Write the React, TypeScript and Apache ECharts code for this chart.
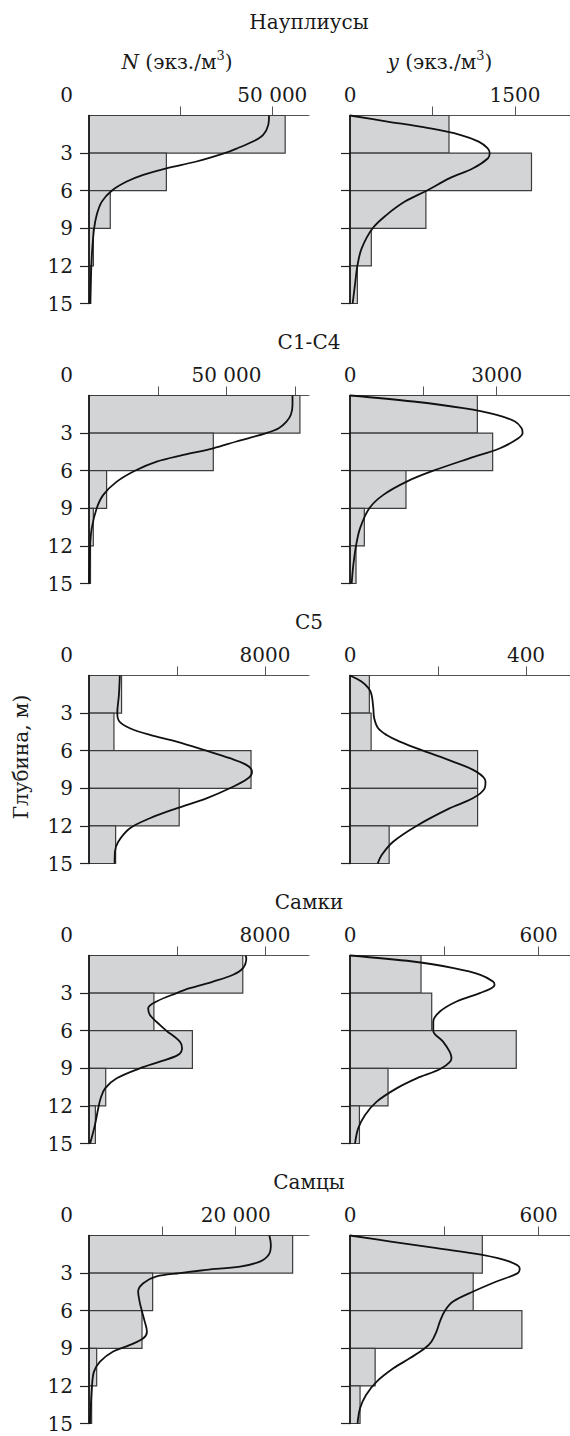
import { useEffect, useRef } from "react";
import * as echarts from "echarts";

// ---------- data ----------
const groupTitles = ["Науплиусы", "C1-C4", "C5", "Самки", "Самцы"];
const depthBands = [[0, 3], [3, 6], [6, 9], [9, 12], [12, 15]];
const depthTicks = [3, 6, 9, 12, 15];

// Науплиусы
const naupliiNBars = [53500, 21100, 5800, 1200, 500];
const naupliiNCurve = [[49100, 0], [48900, 0.75], [47500, 1.54], [44700, 2.08], [40500, 2.61], [37000, 3.0], [29300, 3.67], [21100, 4.21], [14800, 4.74], [10300, 5.27], [6200, 6.0], [3500, 6.87], [2100, 7.93], [1400, 9.0], [900, 10.6], [640, 12.0], [270, 15]];
const naupliiNMax = 60000;
const naupliiNTicks = [25000, 50000];
const naupliiNLabels = [50000];

const naupliiYBars = [900, 1650, 690, 194, 67];
const naupliiYCurve = [[0, 0], [340, 0.48], [715, 1.01], [1000, 1.54], [1170, 2.08], [1250, 2.61], [1270, 3.0], [1255, 3.41], [1119, 4.21], [907, 5.0], [696, 6.0], [499, 6.87], [333, 7.93], [206, 9.0], [106, 10.6], [67, 12.0], [45, 13.52], [24, 15]];
const naupliiYMax = 2000;
const naupliiYTicks = [750, 1500];
const naupliiYLabels = [1500];

// C1-C4
const c14NBars = [76700, 45200, 6400, 1570, 550];
const c14NCurve = [[74000, 0], [74000, 0.75], [73400, 1.54], [71800, 2.08], [69000, 2.61], [64500, 3.0], [53600, 3.67], [45200, 4.21], [34300, 4.74], [24600, 5.27], [16700, 6.0], [10100, 6.87], [5200, 7.93], [2800, 9.0], [1000, 10.6], [400, 12.0], [100, 15]];
const c14NMax = 80000;
const c14NTicks = [25000, 50000, 75000];
const c14NLabels = [50000];

const c14YBars = [2605, 2918, 1145, 293, 123];
const c14YCurve = [[0, 0], [1295, 0.48], [2318, 1.01], [3000, 1.54], [3375, 2.08], [3511, 2.61], [3530, 3.0], [3443, 3.41], [3068, 4.21], [2455, 5.0], [1705, 6.0], [1159, 6.87], [682, 7.93], [395, 9.0], [205, 10.6], [123, 12.0], [68, 13.52], [34, 15]];
const c14YMax = 4500;
const c14YTicks = [1500, 3000, 4500];
const c14YLabels = [3000];

// C5
const c5NBars = [1480, 1134, 7365, 4100, 1210];
const c5NCurve = [[1400, 0], [1360, 1.54], [1285, 3.0], [1380, 3.67], [1860, 4.21], [2770, 4.74], [3980, 5.27], [5340, 6.0], [6400, 6.6], [7150, 7.13], [7410, 7.67], [7230, 8.2], [6400, 9.0], [5340, 9.8], [3980, 10.6], [2770, 11.39], [1860, 12.19], [1330, 13.26], [1180, 14.05], [1165, 15]];
const c5NMax = 10000;
const c5NTicks = [4000, 8000];
const c5NLabels = [8000];

const c5YBars = [44, 48, 290, 290, 89];
const c5YCurve = [[0, 0], [26, 0.48], [42, 1.01], [49, 1.54], [53, 2.61], [55, 3.41], [64, 4.21], [83, 4.74], [113, 5.27], [166, 6.0], [234, 6.87], [287, 7.67], [308, 8.47], [306, 9.0], [279, 9.8], [226, 10.6], [151, 12.0], [98, 13.26], [72, 14.32], [63, 15]];
const c5YMax = 500;
const c5YTicks = [200, 400];
const c5YLabels = [400];

// Самки
const femaleNBars = [6990, 2950, 4700, 760, 290];
const femaleNCurve = [[7110, 0], [7150, 0.2], [7000, 1.01], [6550, 1.54], [5640, 2.08], [4580, 2.61], [3980, 3.0], [3070, 3.67], [2690, 4.21], [2770, 4.74], [3220, 5.54], [3520, 6.0], [4130, 6.87], [4230, 7.4], [4050, 7.93], [3220, 8.47], [2310, 9.0], [1260, 9.8], [730, 10.6], [530, 11.39], [420, 12.19], [270, 13.52], [50, 15]];
const femaleNMax = 10000;
const femaleNTicks = [4000, 8000];
const femaleNLabels = [8000];

const femaleYBars = [226, 260, 529, 121, 30];
const femaleYCurve = [[0, 0], [200, 0.48], [330, 1.01], [415, 1.54], [455, 2.08], [460, 2.35], [450, 2.61], [413, 3.0], [339, 3.67], [286, 4.47], [265, 5.27], [265, 6.0], [296, 6.87], [317, 7.67], [323, 8.2], [291, 9.0], [212, 9.8], [148, 10.6], [85, 11.66], [48, 12.72], [26, 13.79], [16, 15]];
const femaleYMax = 700;
const femaleYTicks = [300, 600];
const femaleYLabels = [600];

// Самцы
const maleNBars = [27770, 8680, 7230, 1045, 360];
const maleNCurve = [[24600, 0], [24800, 0.75], [24500, 1.54], [23300, 2.08], [20600, 2.48], [16000, 2.74], [12400, 3.0], [9200, 3.27], [7400, 3.81], [6700, 4.47], [6900, 5.27], [7200, 6.0], [7600, 6.87], [7900, 7.67], [7400, 8.2], [5600, 8.73], [3300, 9.26], [1500, 10.06], [680, 10.86], [410, 12.0], [140, 15]];
const maleNMax = 30000;
const maleNTicks = [10000, 20000];
const maleNLabels = [20000];

const maleYBars = [421, 392, 547, 80, 32];
const maleYCurve = [[0, 0], [130, 0.48], [276, 1.01], [421, 1.54], [508, 2.08], [540, 2.61], [534, 3.0], [466, 3.67], [392, 4.47], [328, 5.27], [302, 6.0], [286, 6.87], [275, 7.67], [259, 8.47], [238, 9.0], [190, 9.8], [138, 10.6], [85, 11.66], [51, 12.72], [32, 13.79], [24, 15]];
const maleYMax = 700;
const maleYTicks = [300, 600];
const maleYLabels = [600];

const panels = [
  { bars: naupliiNBars, curve: naupliiNCurve, max: naupliiNMax, ticks: naupliiNTicks, labels: naupliiNLabels },
  { bars: naupliiYBars, curve: naupliiYCurve, max: naupliiYMax, ticks: naupliiYTicks, labels: naupliiYLabels },
  { bars: c14NBars, curve: c14NCurve, max: c14NMax, ticks: c14NTicks, labels: c14NLabels },
  { bars: c14YBars, curve: c14YCurve, max: c14YMax, ticks: c14YTicks, labels: c14YLabels },
  { bars: c5NBars, curve: c5NCurve, max: c5NMax, ticks: c5NTicks, labels: c5NLabels },
  { bars: c5YBars, curve: c5YCurve, max: c5YMax, ticks: c5YTicks, labels: c5YLabels },
  { bars: femaleNBars, curve: femaleNCurve, max: femaleNMax, ticks: femaleNTicks, labels: femaleNLabels },
  { bars: femaleYBars, curve: femaleYCurve, max: femaleYMax, ticks: femaleYTicks, labels: femaleYLabels },
  { bars: maleNBars, curve: maleNCurve, max: maleNMax, ticks: maleNTicks, labels: maleNLabels },
  { bars: maleYBars, curve: maleYCurve, max: maleYMax, ticks: maleYTicks, labels: maleYLabels },
];

// ---------- layout / style ----------
const FONT = "DejaVu Serif";
const FS = 20;
const TEXT = "#1a1a1a";
const GROUP_TOP0 = 115.5;
const GROUP_STEP = 280;
const PLOT_H = 188;
const PLOT_W = 220;
const LEFT_X = 89;
const RIGHT_X = 350;

const fmt = (v: number) => {
  if (v >= 10000) {
    const s = String(v);
    return s.slice(0, s.length - 3) + " " + s.slice(s.length - 3);
  }
  return String(v);
};

export default function App() {
  const ref = useRef<HTMLDivElement>(null);

  useEffect(() => {
    document.body.style.margin = "0";
    if (!ref.current) return;
    const chart = echarts.init(ref.current, undefined, { renderer: "svg" });

    const grid: any[] = [];
    const xAxis: any[] = [];
    const yAxis: any[] = [];
    const series: any[] = [];
    const graphic: any[] = [];

    panels.forEach((p, i) => {
      const g = Math.floor(i / 2);
      const side = i % 2;
      const top = GROUP_TOP0 + GROUP_STEP * g;
      grid.push({ left: side ? RIGHT_X : LEFT_X, top, width: PLOT_W, height: PLOT_H });
      xAxis.push({
        gridIndex: i,
        type: "value",
        position: "top",
        min: 0,
        max: p.max,
        axisLine: { show: true, onZero: false, lineStyle: { color: "#555", width: 1 } },
        axisTick: { show: true, customValues: p.ticks, length: 9, lineStyle: { color: "#555", width: 1 } },
        axisLabel: {
          show: true,
          customValues: side ? [0, ...p.labels] : p.labels,
          formatter: (v: number) => fmt(v),
          margin: 11,
          fontFamily: FONT,
          fontSize: FS,
          color: TEXT,
        },
        splitLine: { show: false },
      });
      yAxis.push({
        gridIndex: i,
        type: "value",
        inverse: true,
        min: 0,
        max: 15,
        z: 5,
        axisLine: { show: true, onZero: false, lineStyle: { color: "#111", width: 1.6 } },
        axisTick: { show: true, customValues: depthTicks, length: 9, lineStyle: { color: "#222", width: 1.2 } },
        axisLabel: {
          show: side === 0,
          customValues: depthTicks,
          margin: 16,
          fontFamily: FONT,
          fontSize: FS,
          color: TEXT,
        },
        splitLine: { show: false },
      });
      series.push({
        type: "custom",
        xAxisIndex: i,
        yAxisIndex: i,
        z: 2,
        encode: { x: 0, y: [1, 2] },
        data: p.bars.map((v, k) => [v, depthBands[k][0], depthBands[k][1]]),
        renderItem: (_params: any, api: any) => {
          const v = api.value(0);
          const d0 = api.value(1);
          const d1 = api.value(2);
          const a = api.coord([0, d0]);
          const b = api.coord([v, d1]);
          return {
            type: "rect",
            shape: { x: a[0], y: a[1], width: b[0] - a[0], height: b[1] - a[1] },
            style: { fill: "#d3d4d6", stroke: "#3c3c3c", lineWidth: 1.2 },
          };
        },
      });
      series.push({
        type: "line",
        xAxisIndex: i,
        yAxisIndex: i,
        z: 3,
        data: p.curve,
        smooth: 0.35,
        symbol: "none",
        lineStyle: { color: "#111", width: 1.8 },
        clip: false,
      });
    });

    groupTitles.forEach((t, g) => {
      const top = GROUP_TOP0 + GROUP_STEP * g;
      graphic.push({
        type: "text",
        x: 309,
        y: g === 0 ? 22 : top - 54,
        style: { text: t, fontFamily: FONT, fontSize: FS, fill: TEXT, align: "center", verticalAlign: "middle" },
      });
      graphic.push({
        type: "text",
        x: 66.5,
        y: top - 21,
        style: { text: "0", fontFamily: FONT, fontSize: FS, fill: TEXT, align: "center", verticalAlign: "middle" },
      });
    });

    const unitRich = {
      i: { fontFamily: FONT, fontSize: FS, fontStyle: "italic", fill: TEXT, lineHeight: 26 },
      n: { fontFamily: FONT, fontSize: FS, fill: TEXT, lineHeight: 26 },
      sup: { fontFamily: FONT, fontSize: 13, fill: TEXT, verticalAlign: "top", lineHeight: 13 },
    };
    graphic.push({
      type: "text",
      x: 177,
      y: 62,
      style: {
        text: "{i|N}{n| (экз./м}{sup|3}{n|)}",
        rich: unitRich,
        align: "center",
        verticalAlign: "middle",
      },
    });
    graphic.push({
      type: "text",
      x: 440,
      y: 62,
      style: {
        text: "{i|y}{n| (экз./м}{sup|3}{n|)}",
        rich: unitRich,
        align: "center",
        verticalAlign: "middle",
      },
    });
    graphic.push({
      type: "text",
      x: 21,
      y: 757,
      rotation: Math.PI / 2,
      style: {
        text: "Глубина, м)",
        fontFamily: FONT,
        fontSize: FS,
        fill: TEXT,
        align: "center",
        verticalAlign: "middle",
      },
    });

    chart.setOption({
      animation: false,
      backgroundColor: "#ffffff",
      grid,
      xAxis,
      yAxis,
      series,
      graphic,
    });

    return () => chart.dispose();
  }, []);

  return <div ref={ref} style={{ width: 570, height: 1436 }} />;
}
